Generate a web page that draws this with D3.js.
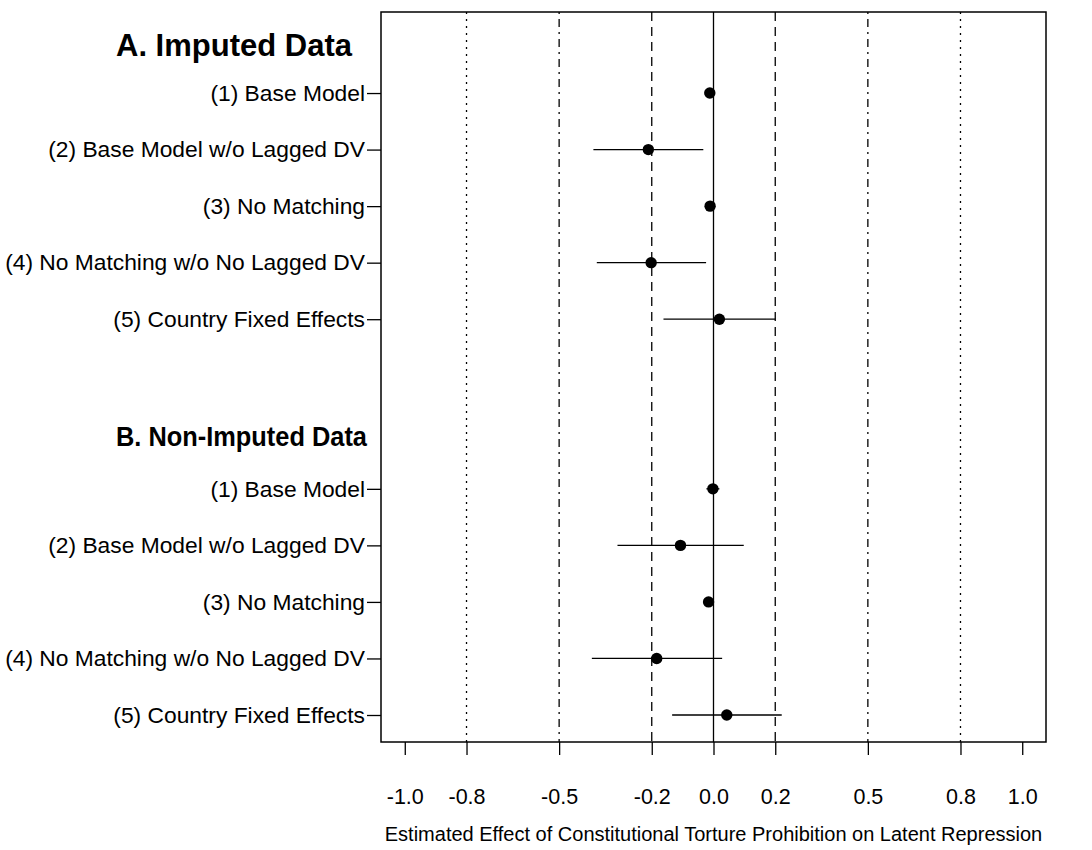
<!DOCTYPE html>
<html><head><meta charset="utf-8">
<script src="https://cdn.jsdelivr.net/npm/d3@7"></script>
<style>body{margin:0;background:#fff}svg{display:block}text{font-family:"Liberation Sans",Arial,sans-serif;fill:#000}</style>
</head><body><svg id="c" width="1092" height="850"></svg>
<script>
// ---- data ----
const headers = ["A. Imputed Data", "B. Non-Imputed Data"];
const headerSizes = [31, 27.5];
const headerWidths = [null, 251];
const models = ["(1) Base Model", "(2) Base Model w/o Lagged DV", "(3) No Matching", "(4) No Matching w/o No Lagged DV", "(5) Country Fixed Effects"];
const estImputed = [-0.012, -0.211, -0.011, -0.202, 0.019];
const loImputed  = [-0.015, -0.389, -0.014, -0.378, -0.162];
const hiImputed  = [-0.009, -0.033, -0.008, -0.024, 0.201];
const estNonImputed = [-0.002, -0.107, -0.016, -0.184, 0.043];
const loNonImputed  = [-0.023, -0.311, -0.020, -0.394, -0.134];
const hiNonImputed  = [0.019, 0.098, -0.012, 0.028, 0.221];
const tickValues = [-1.0, -0.8, -0.5, -0.2, 0.0, 0.2, 0.5, 0.8, 1.0];
const tickLabels = ["-1.0", "-0.8", "-0.5", "-0.2", "0.0", "0.2", "0.5", "0.8", "1.0"];
const refLines = [-0.8, -0.5, -0.2, 0.2, 0.5, 0.8];
const xTitle = "Estimated Effect of Constitutional Torture Prohibition on Latent Repression";

// ---- layout ----
const svg = d3.select("#c");
const L = 381, R = 1046, T = 12, B = 742;
const x = d3.scaleLinear().domain([-1.077, 1.077]).range([L, R]);
const y = d3.scaleLinear().domain([0, 12]).range([36.5, 715]);

const rows = [];
models.forEach((m, i) => rows.push({label: m, row: 1 + i, est: estImputed[i], lo: loImputed[i], hi: hiImputed[i]}));
models.forEach((m, i) => rows.push({label: m, row: 8 + i, est: estNonImputed[i], lo: loNonImputed[i], hi: hiNonImputed[i]}));

function dashFor(v) {
  const a = Math.abs(v);
  if (a === 0.8) return "2,5";
  if (a === 0.5) return "2,5,8,5";
  return "9,6";
}
svg.append("g").selectAll("line").data(refLines).join("line")
  .attr("x1", d => x(d)).attr("x2", d => x(d)).attr("y1", T).attr("y2", B)
  .attr("stroke", "#000").attr("stroke-width", 1.3).attr("stroke-dasharray", dashFor);
svg.append("line").attr("x1", x(0)).attr("x2", x(0)).attr("y1", T).attr("y2", B)
  .attr("stroke", "#000").attr("stroke-width", 1.3);

svg.append("g").selectAll("line").data(rows).join("line")
  .attr("x1", d => x(d.lo)).attr("x2", d => x(d.hi)).attr("y1", d => y(d.row)).attr("y2", d => y(d.row))
  .attr("stroke", "#000").attr("stroke-width", 1.3);
svg.append("g").selectAll("circle").data(rows).join("circle")
  .attr("cx", d => x(d.est)).attr("cy", d => y(d.row)).attr("r", 5.7).attr("fill", "#000");

svg.append("rect").attr("x", L).attr("y", T).attr("width", R - L).attr("height", B - T)
  .attr("fill", "none").attr("stroke", "#000").attr("stroke-width", 1.5);

const xAxis = d3.axisBottom(x).tickValues(tickValues).tickFormat((d, i) => tickLabels[i]).tickSize(13).tickPadding(34);
const gx = svg.append("g").attr("transform", `translate(0,${B})`).call(xAxis);
gx.select(".domain").remove();
gx.selectAll("line").attr("stroke", "#000").attr("stroke-width", 1.3);
gx.selectAll("text").attr("font-size", 21.5).attr("font-family", "Liberation Sans, Arial, sans-serif").attr("fill", "#000");

const yAxis = d3.axisLeft(y).tickValues(rows.map(d => d.row)).tickFormat(v => rows.find(r => r.row === v).label).tickSize(14).tickPadding(2);
const gy = svg.append("g").attr("transform", `translate(${L},0)`).call(yAxis);
gy.select(".domain").remove();
gy.selectAll("line").attr("stroke", "#000").attr("stroke-width", 1.3);
gy.selectAll("text").attr("font-size", 22.8).attr("font-family", "Liberation Sans, Arial, sans-serif").attr("fill", "#000");

svg.append("g").selectAll("text").data(headers).join("text")
  .attr("x", 116).attr("y", (d, i) => y(i === 0 ? 0 : 7) + (i === 0 ? 19 : 14))
  .attr("font-size", (d, i) => headerSizes[i]).attr("font-weight", "bold")
  .each(function (d, i) { if (headerWidths[i]) d3.select(this).attr("textLength", headerWidths[i]).attr("lengthAdjust", "spacingAndGlyphs"); })
  .text(d => d);

svg.append("text").attr("x", (L + R) / 2).attr("y", 841).attr("text-anchor", "middle")
  .attr("font-size", 20).text(xTitle);
</script></body></html>
